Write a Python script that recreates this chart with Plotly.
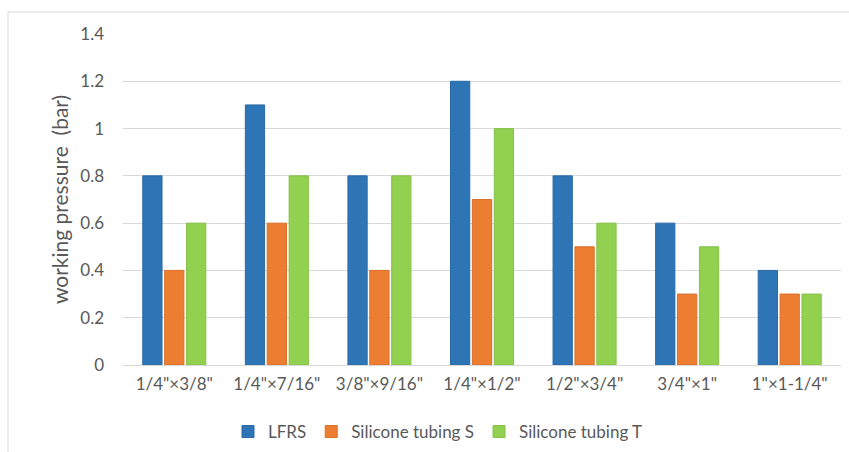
import plotly.graph_objects as go

categories = ['1/4"×3/8"', '1/4"×7/16"', '3/8"×9/16"', '1/4"×1/2"', '1/2"×3/4"', '3/4"×1"', '1"×1-1/4"']
lfrs = [0.8, 1.1, 0.8, 1.2, 0.8, 0.6, 0.4]
silicone_s = [0.4, 0.6, 0.4, 0.7, 0.5, 0.3, 0.3]
silicone_t = [0.6, 0.8, 0.8, 1.0, 0.6, 0.5, 0.3]
y_ticks = [0, 0.2, 0.4, 0.6, 0.8, 1, 1.2, 1.4]
y_tick_text = ["0", "0.2", "0.4", "0.6", "0.8", "1", "1.2", "1.4"]

series = [
    ("LFRS", lfrs, "#2E75B6", "#2a6aa6"),
    ("Silicone tubing S", silicone_s, "#ED7D31", "#d9702a"),
    ("Silicone tubing T", silicone_t, "#92D050", "#86c148"),
]

fig = go.Figure()
for name, vals, col, edge in series:
    fig.add_trace(go.Bar(x=categories, y=vals, name=name, marker=dict(color=col, line=dict(color=edge, width=1))))

W, H = 849, 452
L, R, T, B = 123, 8, 34, 87
pw, ph = W - L - R, H - T - B

def px(x):
    return (x - L) / pw

def py(y):
    return (H - B - y) / ph

font = "Lato, 'Open Sans', sans-serif"
fig.update_layout(
    width=W, height=H,
    margin=dict(l=L, r=R, t=T, b=B, autoexpand=False),
    paper_bgcolor="white", plot_bgcolor="white",
    barmode="group", bargap=0.36, bargroupgap=0.12,
    font=dict(family=font, size=17, color="#595959"),
    showlegend=True,
    legend=dict(orientation="h", x=px(438), xanchor="center", y=py(432), yanchor="middle",
                font=dict(size=17, color="#595959"), itemwidth=30, traceorder="normal"),
    xaxis=dict(showgrid=False, showline=True, linecolor="#d9d9d9", linewidth=1, automargin=False,
               tickfont=dict(size=17, color="#595959"), ticks="", ticklabelstandoff=4),
    yaxis=dict(range=[0, 1.4], tickvals=y_ticks, ticktext=y_tick_text, showgrid=True, automargin=False,
               gridcolor="#d9d9d9", gridwidth=1, zeroline=False, showline=False,
               tickfont=dict(size=17, color="#595959"), ticklabelstandoff=18,
               title=dict(text="working pressure\u00a0\u00a0(bar)", font=dict(size=21, color="#595959"), standoff=5)),
    shapes=[
        dict(type="line", xref="paper", yref="paper", x0=px(8), x1=px(849), y0=py(12), y1=py(12),
             line=dict(color="#d9d9d9", width=1)),
        dict(type="line", xref="paper", yref="paper", x0=px(8), x1=px(8), y0=py(12), y1=py(452),
             line=dict(color="#d9d9d9", width=1)),
    ],
)

fig.write_html("out.html", config={"displayModeBar": False},
               post_script="document.body.style.margin='0px';document.body.style.overflow='hidden';")
